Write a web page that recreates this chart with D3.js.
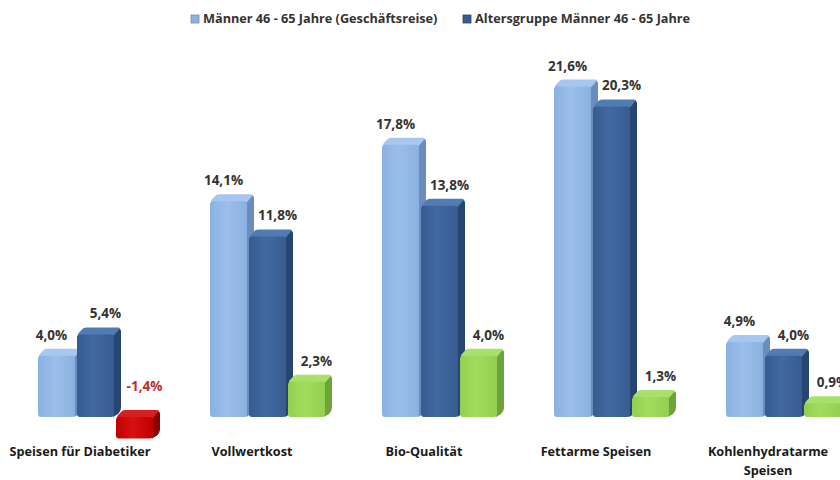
<!DOCTYPE html>
<html>
<head>
<meta charset="utf-8">
<script src="https://cdn.jsdelivr.net/npm/d3@7"></script>
<style>
  body { margin: 0; background: #fff; }
  text { font-family: "Open Sans", sans-serif; font-weight: bold; }
</style>
</head>
<body>
<div id="chart"></div>
<script>
// data
var categories = ["Speisen für Diabetiker", "Vollwertkost", "Bio-Qualität", "Fettarme Speisen", "Kohlenhydratarme Speisen"];
var seriesNames = ["Männer 46 - 65 Jahre (Geschäftsreise)", "Altersgruppe Männer 46 - 65 Jahre"];
var geschaeftsreise = [4.0, 14.1, 17.8, 21.6, 4.9];
var altersgruppe = [5.4, 11.8, 13.8, 20.3, 4.0];
var differenz = [-1.4, 2.3, 4.0, 1.3, 0.9];

var width = 840, height = 480;
var depth = 7, barW = 37;

var svg = d3.select("#chart").append("svg")
    .attr("width", width)
    .attr("height", height);

var defs = svg.append("defs");

// colour sets: front, side, top
var palettes = {
  light: { front: "#8ab1e1", front2: "#9cbfe9", side: "#6a8dbd", top: "#a8c7ee" },
  dark:  { front: "#365c92", front2: "#4269a0", side: "#274571", top: "#507bb3" },
  green: { front: "#92d050", front2: "#a2dc5e", side: "#6ea33a", top: "#a8e06a" },
  red:   { front: "#c00000", front2: "#d81010", side: "#8a0000", top: "#d42020" }
};

Object.keys(palettes).forEach(function(k) {
  var p = palettes[k];
  var g = defs.append("linearGradient").attr("id", "grad-" + k)
      .attr("x1", "0").attr("x2", "1").attr("y1", "0").attr("y2", "0");
  g.append("stop").attr("offset", "0%").attr("stop-color", p.front);
  g.append("stop").attr("offset", "45%").attr("stop-color", p.front2);
  g.append("stop").attr("offset", "100%").attr("stop-color", p.front);
});

//
// scales
//
var x = d3.scaleBand()
    .domain(categories)
    .range([38, 38 + 172 * categories.length]);

var inner = d3.scaleBand()
    .domain([0, 1, 2])
    .range([0, 117]);

var y = d3.scaleLinear()
    .domain([0, 20])
    .range([417, 111]);

//
// bars
//
var rows = categories.map(function(c, i) {
  return [
    { cat: c, s: 0, value: geschaeftsreise[i], pal: "light" },
    { cat: c, s: 1, value: altersgruppe[i], pal: "dark" },
    { cat: c, s: 2, value: differenz[i], pal: differenz[i] < 0 ? "red" : "green" }
  ];
});

var labelShift = [-5, 10, 10];

rows.forEach(function(row) {
  var g = svg.append("g");
  row.forEach(function(d) {
    var x0 = x(d.cat) + inner(d.s);
    var yt = Math.min(y(d.value), y(0));
    var yb = Math.max(y(d.value), y(0));
    var p = palettes[d.pal];

    // side face
    g.append("path")
      .attr("fill", p.side)
      .attr("d", "M" + (x0 + barW - 1) + "," + yt +
                 "L" + (x0 + barW + depth - 3) + "," + (yt - depth + 1) +
                 "Q" + (x0 + barW + depth) + "," + (yt - depth + 1) + " " + (x0 + barW + depth) + "," + (yt - depth + 4) +
                 "L" + (x0 + barW + depth) + "," + (yb - depth - 2) +
                 "Q" + (x0 + barW + depth) + "," + (yb - depth + 1) + " " + (x0 + barW + depth - 3) + "," + (yb - depth + 4) +
                 "L" + (x0 + barW - 1) + "," + yb + "Z");

    // top face
    g.append("path")
      .attr("fill", p.top)
      .attr("d", "M" + (x0 + 1) + "," + yt +
                 "Q" + (x0 + 1) + "," + (yt - 1) + " " + (x0 + 3) + "," + (yt - 3) +
                 "L" + (x0 + depth - 1) + "," + (yt - depth + 1) +
                 "Q" + (x0 + depth) + "," + (yt - depth) + " " + (x0 + depth + 3) + "," + (yt - depth) +
                 "L" + (x0 + barW + depth - 3) + "," + (yt - depth) +
                 "Q" + (x0 + barW + depth) + "," + (yt - depth) + " " + (x0 + barW + depth - 2) + "," + (yt - depth + 2) +
                 "L" + (x0 + barW) + "," + (yt + 1) + "L" + (x0 + 1) + "," + (yt + 1) + "Z");

    // front face
    g.append("rect")
      .attr("x", x0)
      .attr("y", yt)
      .attr("width", barW)
      .attr("height", yb - yt)
      .attr("rx", 3)
      .attr("fill", "url(#grad-" + d.pal + ")");

    // value label
    var ly = d.value < 0 ? y(0) - 26 : yt - depth - 9;
    g.append("text")
      .attr("x", x0 + barW / 2 + labelShift[d.s])
      .attr("y", ly)
      .attr("text-anchor", "middle")
      .attr("font-size", 13.5)
      .attr("fill", d.value < 0 ? "#c0302b" : "#333")
      .text(d3.format(".1f")(d.value).replace(".", ",").replace("−", "-") + "%");
  });
});

//
// category labels
//
categories.forEach(function(c) {
  var t = svg.append("text")
    .attr("x", x(c) + 42)
    .attr("y", 456)
    .attr("text-anchor", "middle")
    .attr("font-size", 12.7)
    .attr("fill", "#1a1a1a");
  var words = c.split(" ");
  if (c.length > 22) {
    t.append("tspan").attr("x", x(c) + 42).text(words[0]);
    t.append("tspan").attr("x", x(c) + 42).attr("dy", 19).text(words.slice(1).join(" "));
  } else {
    t.text(c);
  }
});

//
// legend
//
var legendX = [191, 463];
var legendPal = ["light", "dark"];
seriesNames.forEach(function(n, i) {
  svg.append("rect")
    .attr("x", legendX[i])
    .attr("y", 15)
    .attr("width", 8)
    .attr("height", 8)
    .attr("fill", palettes[legendPal[i]].front)
    .attr("stroke", palettes[legendPal[i]].side)
    .attr("stroke-width", 0.8);
  svg.append("text")
    .attr("x", legendX[i] + 12)
    .attr("y", 23)
    .attr("font-size", 12.7)
    .attr("fill", "#333")
    .text(n);
});
</script>
</body>
</html>
